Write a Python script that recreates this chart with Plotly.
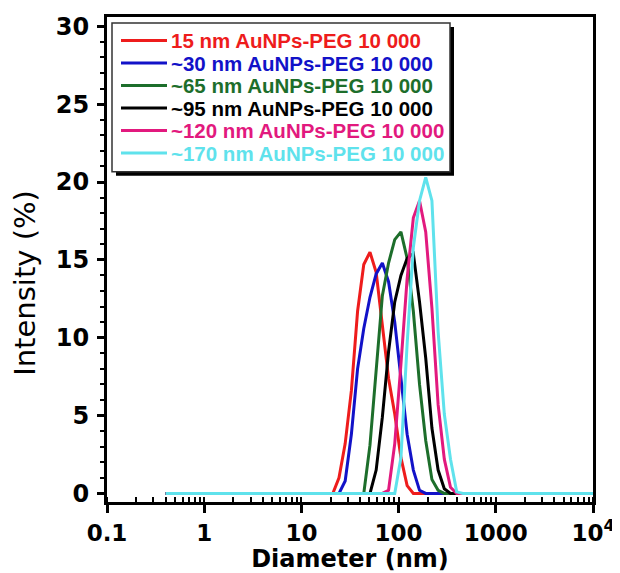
import plotly.graph_objects as go

# DLS size bins (nm) used by the curves
red_x = [0.4, 21.04, 24.36, 28.21, 32.67, 37.84, 43.82, 50.75, 58.77, 68.06, 78.82, 91.28, 105.7, 122.4, 141.8, 10000]
red_y = [0, 0, 1.0, 3.2, 6.6, 11.7, 14.7, 15.5, 14.2, 10.8, 7.4, 5.1, 2.3, 0.5, 0, 0]

blue_x = [0.4, 24.36, 28.21, 32.67, 37.84, 43.82, 50.75, 58.77, 68.06, 78.82, 91.28, 105.7, 122.4, 141.8, 164.2, 190.1, 10000]
blue_y = [0, 0, 0.8, 3.8, 8.0, 10.6, 12.6, 14.1, 14.8, 13.6, 11.0, 7.4, 3.8, 1.5, 0.2, 0, 0]

green_x = [0.4, 43.82, 50.75, 58.77, 68.06, 78.82, 91.28, 105.7, 122.4, 141.8, 164.2, 190.1, 220.2, 255.0, 295.3, 10000]
green_y = [0, 0, 3.1, 8.1, 12.7, 14.8, 16.3, 16.8, 15.1, 11.7, 7.0, 3.4, 0.9, 0.2, 0, 0]

black_x = [0.4, 50.75, 58.77, 68.06, 78.82, 91.28, 105.7, 122.4, 141.8, 164.2, 190.1, 220.2, 255.0, 295.3, 342.0, 10000]
black_y = [0, 0, 1.5, 4.9, 9.1, 12.3, 14.0, 15.1, 15.4, 12.3, 8.7, 4.2, 1.5, 0.3, 0, 0]

pink_x = [0.4, 68.06, 78.82, 91.28, 105.7, 122.4, 141.8, 164.2, 190.1, 220.2, 255.0, 295.3, 342.0, 396.1, 10000]
pink_y = [0, 0, 0.2, 3.2, 8.3, 13.8, 17.7, 18.8, 16.8, 11.9, 5.7, 2.2, 0.4, 0, 0]

cyan_x = [0.4, 91.28, 105.7, 122.4, 141.8, 164.2, 190.1, 220.2, 255.0, 295.3, 342.0, 396.1, 458.7, 10000]
cyan_y = [0, 0, 2.3, 9.6, 15.8, 18.8, 20.3, 18.8, 10.4, 5.1, 2.2, 0.1, 0, 0]

names = ["15 nm AuNPs-PEG 10 000", "~30 nm AuNPs-PEG 10 000", "~65 nm AuNPs-PEG 10 000",
         "~95 nm AuNPs-PEG 10 000", "~120 nm AuNPs-PEG 10 000", "~170 nm AuNPs-PEG 10 000"]
colors = ["#ee1c1c", "#1212c8", "#1d6e2b", "#000000", "#e2197e", "#5fe2ec"]

x_tickvals = [0.1, 1, 10, 100, 1000, 10000]
x_ticktext = ["0.1", "1", "10", "100", "1000", "10<sup>4</sup>"]

series = [(red_x, red_y), (blue_x, blue_y), (green_x, green_y),
          (black_x, black_y), (pink_x, pink_y), (cyan_x, cyan_y)]

fig = go.Figure()
for (xs, ys), nm, c in zip(series, names, colors):
    fig.add_trace(go.Scatter(x=xs, y=ys, mode="lines", name=nm,
                             line=dict(color=c, width=3), showlegend=False))

# page body has an 8px margin: work in screen pixels and shift
OFF = 8
W, H = 612, 565
L, R, T, B = 107 - OFF, 593 - OFF, 13 - OFF, 502 - OFF
def px(xs):
    return (xs - OFF - L) / (R - L)
def py(ys):
    return 1 - (ys - OFF - T) / (B - T)

shapes = []
annotations = []
# legend box with shadow
shapes.append(dict(type="rect", xref="paper", yref="paper", x0=px(116), x1=px(454), y0=py(173), y1=py(23),
                   fillcolor="black", line=dict(width=0), layer="above"))
shapes.append(dict(type="rect", xref="paper", yref="paper", x0=px(112), x1=px(450), y0=py(169), y1=py(19),
                   fillcolor="white", line=dict(color="#333333", width=1.5), layer="above"))
for i, (nm, c) in enumerate(zip(names, colors)):
    yc = 36.7 + 22.7 * i
    shapes.append(dict(type="line", xref="paper", yref="paper", x0=px(121), x1=px(167), y0=py(yc), y1=py(yc),
                       line=dict(color=c, width=3), layer="above"))
    annotations.append(dict(text=nm, xref="paper", yref="paper", x=px(169), y=py(yc), xanchor="left",
                            yanchor="middle", showarrow=False,
                            font=dict(family="Liberation Sans", size=20.5, weight="bold", color=c)))

annotations.append(dict(text="Intensity (%)", xref="paper", yref="paper", x=px(25), y=py(281),
                        textangle=-90, showarrow=False, xanchor="center", yanchor="middle",
                        font=dict(family="DejaVu Sans", size=29, color="black")))

fig.update_layout(
    width=W, height=H,
    margin=dict(l=L, r=W - R, t=T, b=H - B),
    paper_bgcolor="white", plot_bgcolor="white",
    shapes=shapes, annotations=annotations,
    showlegend=False,
)
fig.update_xaxes(
    type="log", range=[-1, 4],
    tickmode="array", tickvals=x_tickvals, ticktext=x_ticktext,
    ticks="outside", ticklen=8, tickwidth=3, tickcolor="black",
    showline=True, linewidth=3, linecolor="black", mirror=True,
    showgrid=False, zeroline=False,
    tickfont=dict(family="DejaVu Sans", size=23, weight="bold", color="black"),
    minor=dict(dtick="D1", ticks="inside", ticklen=5, tickwidth=2, tickcolor="black", showgrid=False),
    title=dict(text="Diameter (nm)", standoff=3,
               font=dict(family="DejaVu Sans", size=24, weight="bold", color="black")),
)
fig.update_yaxes(
    range=[-0.55, 30.6], tickmode="linear", tick0=0, dtick=5,
    ticks="outside", ticklen=7, tickwidth=3, tickcolor="black",
    showline=True, linewidth=3, linecolor="black", mirror=True,
    showgrid=False, zeroline=False, ticklabelstandoff=3,
    tickfont=dict(family="DejaVu Sans", size=24, weight="bold", color="black"),
    minor=dict(dtick=1, ticks="outside", ticklen=4, tickwidth=2, tickcolor="black", showgrid=False),
)

fig.write_html("out.html")
